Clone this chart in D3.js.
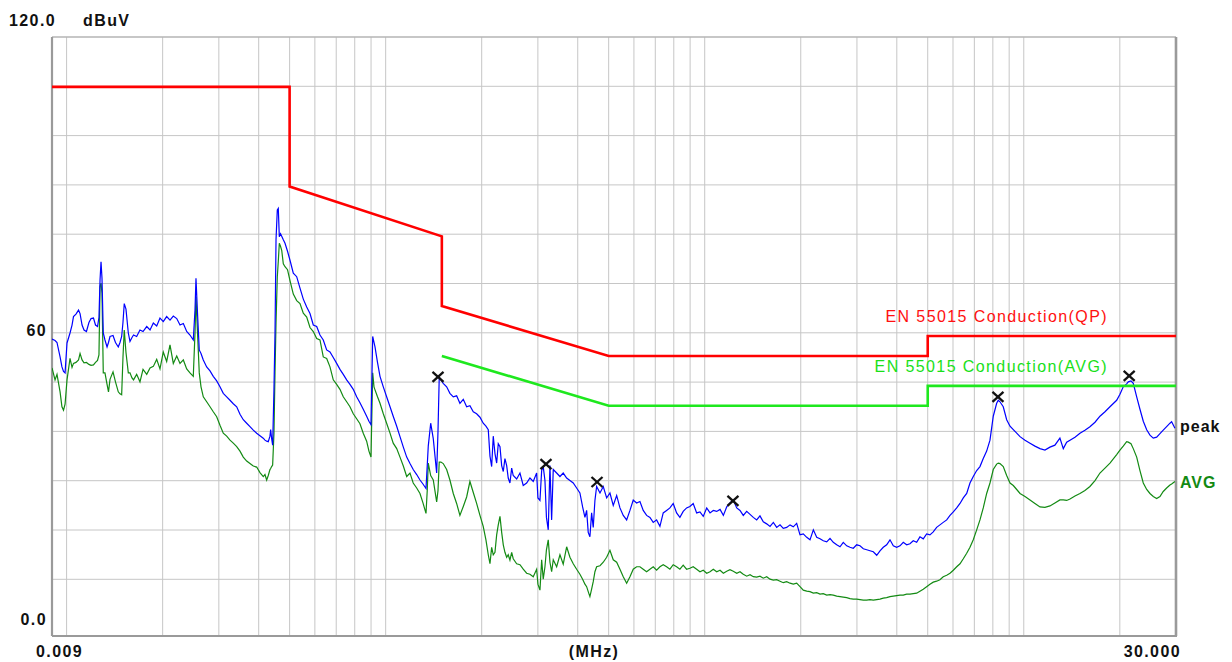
<!DOCTYPE html>
<html><head><meta charset="utf-8">
<script src="https://cdn.jsdelivr.net/npm/d3@7"></script>
<style>
html,body{margin:0;padding:0;background:#fff;}
svg{display:block;}
</style></head>
<body>
<svg id="chart" width="1232" height="662"></svg>
<script>
// ---------- data (MHz / dBuV) ----------
const freqs = [0.009,0.0092,0.00933,0.00954,0.00967,0.00978,0.00989,0.01003,0.01025,0.0104,
0.01051,0.0107,0.0109,0.01102,0.01118,0.01134,0.01154,0.01175,0.01193,0.01214,
0.01232,0.0125,0.01263,0.01273,0.01282,0.01291,0.01303,0.01319,0.01339,0.01353,
0.01368,0.01398,0.01423,0.01452,0.0147,0.01488,0.01502,0.01516,0.01535,0.01561,
0.0158,0.01603,0.01621,0.01658,0.01698,0.01736,0.01783,0.01826,0.0187,0.01916,
0.01962,0.02009,0.02059,0.02109,0.0216,0.02214,0.02267,0.02322,0.02379,0.02436,
0.02495,0.02526,0.02544,0.02572,0.02605,0.02638,0.02682,0.02748,0.02815,0.02882,
0.02954,0.03025,0.03098,0.03175,0.03252,0.0333,0.03413,0.03495,0.03579,0.03668,
0.03756,0.03847,0.03942,0.04037,0.04134,0.04185,0.04237,0.04286,0.04339,0.04361,
0.04392,0.04424,0.04466,0.045,0.04533,0.04575,0.04608,0.04642,0.04682,0.04723,
0.04778,0.04837,0.04925,0.05014,0.05135,0.05262,0.05389,0.05519,0.05656,0.05792,
0.05932,0.06079,0.06225,0.06375,0.06533,0.06691,0.06852,0.07022,0.07191,0.07364,
0.07547,0.07729,0.07915,0.08111,0.08307,0.08507,0.08718,0.08864,0.08996,0.09107,
0.09193,0.0926,0.09428,0.096,0.09831,0.1007,0.1032,0.1056,0.1083,0.1109,
0.1136,0.1164,0.1192,0.122,0.1251,0.1281,0.1309,0.1338,0.135,0.136,
0.1384,0.141,0.1445,0.1459,0.1472,0.149,0.1515,0.1553,0.159,0.1629,
0.1669,0.1709,0.1751,0.1794,0.1837,0.1882,0.1928,0.1975,0.2022,0.2062,
0.2097,0.2123,0.2149,0.2174,0.2201,0.2228,0.2254,0.2282,0.231,0.2337,
0.2365,0.2395,0.2422,0.2452,0.2483,0.2511,0.2574,0.2636,0.2699,0.2766,
0.2833,0.2901,0.2973,0.3001,0.3045,0.3083,0.3118,0.3157,0.3191,0.3233,
0.3273,0.3313,0.3352,0.3435,0.3518,0.3602,0.3692,0.3781,0.3872,0.3968,
0.4063,0.4143,0.4213,0.4265,0.4314,0.4367,0.4421,0.4473,0.4528,0.4584,
0.4696,0.4809,0.4928,0.5046,0.5168,0.5297,0.5424,0.5555,0.5693,0.583,
0.597,0.6118,0.6266,0.6416,0.6576,0.6734,0.6896,0.7067,0.7238,0.7412,
0.7596,0.7779,0.7966,0.8164,0.8361,0.8562,0.8775,0.8986,0.9202,0.9435,
0.9662,0.9895,1.0145,1.039,1.064,1.0905,1.117,1.144,1.172,1.2,
1.229,1.26,1.29,1.321,1.354,1.387,1.42,1.455,1.49,1.526,
1.564,1.602,1.641,1.681,1.722,1.763,1.807,1.851,1.895,1.942,
1.989,2.037,2.088,2.138,2.19,2.244,2.298,2.353,2.412,2.47,
2.529,2.592,2.655,2.718,2.786,2.853,2.922,2.994,3.067,3.141,
3.219,3.296,3.376,3.46,3.543,3.628,3.718,3.808,3.9,3.996,
4.093,4.191,4.295,4.399,4.504,4.616,4.727,4.841,4.961,5.081,
5.203,5.332,5.461,5.592,5.734,5.872,6.014,6.163,6.311,6.463,
6.624,6.783,6.946,7.119,7.29,7.465,7.651,7.836,8.024,8.223,
8.319,8.421,8.624,8.839,9.055,9.273,9.503,9.733,10.09,10.46,
10.84,11.24,11.65,12.08,12.52,12.98,13.3,13.63,13.96,14.47,
15.0,15.55,16.12,16.72,17.33,17.97,18.63,19.55,20.02,20.5,
21.01,21.26,21.68,22.04,22.59,23.13,23.69,24.28,24.86,25.46,
26.09,26.72,27.36,28.04,28.72,29.07,29.77];

const peak = [59.4,59.1,58.7,55.8,53.8,52.9,52.6,58.6,60.6,62.2,
63.9,64.4,65.2,64.5,62.2,61.2,60.9,62.7,63.5,63.6,
62.2,61.9,63.7,71.3,74.9,71.6,60.6,59.2,57.8,58.7,
59.9,60.1,58.7,57.8,58.7,59.9,62.7,66.5,65.4,60.6,
58.9,59.7,60.2,59.9,61.2,60.9,61.9,61.2,62.6,62.0,
63.6,62.9,63.9,63.2,64.0,63.5,62.2,62.5,60.9,60.2,
59.2,65.2,71.6,64.6,57.2,56.5,55.2,53.8,53.0,51.9,
51.0,49.8,48.5,47.8,47.1,46.4,45.8,44.3,43.2,42.5,
41.8,41.1,40.5,40.0,39.5,39.1,38.9,38.8,39.9,41.2,
39.4,38.1,49.2,60.6,79.3,85.3,85.6,79.9,80.5,80.0,
79.3,78.6,77.0,75.2,72.6,71.9,69.6,67.4,65.8,64.5,
62.2,61.9,60.2,59.2,57.2,56.8,55.7,54.5,53.3,52.3,
51.2,50.3,49.3,47.8,46.6,45.3,43.9,42.9,42.2,59.9,
58.7,57.8,54.7,51.9,49.8,47.8,45.8,43.9,41.9,39.8,
37.7,35.7,34.4,33.2,32.2,31.1,30.3,29.4,34.0,37.9,
42.5,39.4,32.5,40.9,51.7,51.2,50.5,49.8,48.5,47.8,
48.0,46.5,47.3,45.8,46.0,44.8,44.4,43.7,42.5,41.9,
41.2,35.9,33.8,39.9,36.4,34.5,38.4,37.8,34.0,32.8,
35.4,34.0,31.5,30.5,33.5,32.0,31.3,32.5,30.0,30.5,
31.5,30.8,32.5,27.5,27.0,33.0,33.8,31.0,23.6,21.1,
34.0,23.1,33.2,32.5,31.8,32.5,31.5,31.0,30.5,29.5,
28.5,25.7,23.6,25.0,20.6,19.7,24.5,21.6,27.0,29.8,
28.5,29.8,27.5,28.5,26.0,28.0,25.5,24.0,23.1,25.0,
27.1,26.5,26.8,25.0,24.0,23.6,22.6,23.1,21.8,24.5,
25.0,25.5,26.4,24.5,23.6,24.8,25.5,25.8,26.4,24.5,
24.7,23.8,25.5,24.5,25.0,24.8,25.2,24.0,25.7,26.5,
27.1,25.5,25.0,24.0,24.8,24.2,23.6,23.1,23.9,22.7,
22.3,21.8,22.6,21.6,22.1,21.4,21.6,22.1,21.7,22.4,
20.1,20.3,19.6,19.1,21.1,19.6,19.3,18.9,18.7,19.4,
18.6,18.1,17.7,18.6,17.9,17.6,17.4,18.1,17.9,17.3,
17.1,16.9,16.7,16.0,16.9,17.6,18.1,19.1,17.9,17.6,
17.9,18.6,18.1,18.3,18.9,18.6,19.7,19.3,20.3,20.1,
20.7,21.6,22.1,22.6,23.1,24.0,24.7,25.5,26.4,27.5,
28.4,30.5,31.8,33.0,33.8,35.4,36.9,39.1,43.9,46.5,
47.1,46.8,45.8,43.2,41.9,41.2,40.5,39.8,39.1,38.5,
37.9,37.4,37.1,37.7,38.1,39.5,37.4,38.7,39.1,39.7,
40.5,41.1,41.8,42.7,43.9,44.8,45.8,47.1,48.3,49.8,
50.4,50.8,51.0,50.5,47.8,45.3,42.9,41.2,40.1,39.5,
39.7,40.4,41.1,41.8,42.5,42.8,41.5];

const avg = [53.6,51.2,52.3,48.8,45.8,45.1,46.3,51.2,55.5,53.7,
54.5,54.7,55.2,56.5,55.2,54.6,54.7,54.3,54.1,54.2,
54.7,55.1,56.2,69.9,70.6,68.6,52.6,52.6,50.3,48.8,
51.3,52.8,50.8,48.8,48.4,48.2,55.7,61.2,56.7,52.6,
52.6,51.6,51.2,52.3,50.8,53.3,52.3,53.6,53.9,55.3,
53.4,56.8,54.9,58.2,54.5,56.0,54.5,55.2,53.4,52.6,
51.9,60.6,67.9,60.7,52.6,49.8,47.8,46.8,45.8,44.8,
43.8,42.1,40.5,39.9,39.1,38.5,37.8,36.9,35.7,34.9,
34.4,33.9,33.7,32.6,31.8,32.2,31.1,32.0,33.2,33.4,
33.8,34.1,40.5,52.8,62.7,71.9,75.0,78.6,78.0,77.2,
74.5,73.9,73.3,71.1,68.4,67.1,66.5,64.6,63.8,61.7,
60.9,59.5,59.2,55.8,55.5,53.8,51.2,50.3,49.3,47.8,
46.8,45.8,44.4,43.4,42.4,40.5,38.9,36.9,35.7,52.6,
49.8,49.2,47.8,46.5,44.4,42.5,40.5,38.5,37.4,35.7,
33.9,31.8,32.5,30.5,29.5,28.4,26.5,24.4,29.0,34.5,
32.0,31.1,26.7,29.0,34.7,34.7,34.4,33.2,31.1,28.4,
26.4,24.0,25.8,27.7,30.8,28.6,26.4,24.0,21.8,19.1,
16.1,14.3,17.6,16.1,16.6,20.1,22.1,23.8,20.6,18.1,
16.6,15.6,16.1,15.0,16.6,15.3,14.3,14.1,13.2,12.4,
12.2,11.7,13.2,10.2,9.0,15.1,11.2,13.7,17.1,19.1,
14.6,12.7,15.1,13.7,16.1,14.2,17.7,15.6,14.3,13.2,
12.2,11.2,10.2,9.7,8.7,7.7,9.2,10.7,12.7,13.7,
13.9,14.6,15.6,17.0,15.1,14.6,13.2,11.7,10.4,11.7,
13.2,13.7,13.7,13.2,12.7,13.2,13.7,13.0,13.7,14.1,
13.7,13.2,14.1,13.7,13.2,14.0,13.2,13.4,13.7,13.2,
12.7,13.0,12.4,12.7,13.2,12.7,13.0,12.4,12.8,13.1,
12.8,12.4,12.7,12.2,11.8,12.1,11.7,11.6,11.8,11.4,
11.7,11.2,11.0,11.1,10.8,10.5,10.7,10.4,10.2,10.4,
9.7,9.0,8.8,8.7,8.4,8.5,8.2,8.3,8.0,8.1,
8.0,7.8,7.7,7.6,7.5,7.3,7.2,7.2,7.1,7.0,
7.0,7.1,7.0,7.1,7.2,7.4,7.5,7.7,7.8,7.9,
8.0,8.0,8.2,8.2,8.3,8.4,8.8,9.2,9.7,10.2,
10.6,10.8,11.1,11.7,12.0,12.4,13.0,13.7,14.3,15.3,
16.4,17.6,19.1,21.1,23.1,25.5,28.4,30.5,33.2,34.3,
34.5,34.4,33.8,32.0,30.5,30.0,29.2,28.4,27.8,27.1,
26.4,25.7,25.6,25.9,26.5,27.1,27.1,27.0,27.3,27.9,
28.4,29.0,29.8,31.0,32.5,33.5,34.5,36.2,37.1,37.9,
38.8,38.7,38.4,37.4,35.7,33.0,30.5,29.2,28.4,27.8,
27.4,27.8,28.8,29.5,30.1,30.3,30.8];

// limit lines
const qpFreq   = [0.009, 0.05, 0.05, 0.15, 0.15, 0.5, 5, 5, 30];
const qpLevel  = [110, 110, 90, 80, 66, 56, 56, 60, 60];
const avgLimFreq  = [0.15, 0.5, 5, 5, 30];
const avgLimLevel = [56, 46, 46, 50, 50];

// peak markers
const markerFreq  = [0.1459, 0.318, 0.4597, 1.226, 8.30, 21.4];
const markerLevel = [51.8, 34.3, 30.7, 26.9, 47.8, 52.0];

// axis labels
const yLabelValues = [0, 60];
const yLabelTexts  = ["0.0", "60"];
const xLabelValues = [0.009, 30];
const xLabelTexts  = ["0.009", "30.000"];
const gridLevels   = [10,20,30,40,50,60,70,80,90,100,110];

// ---------- drawing ----------
const L = 52, R = 1176, T = 37, B = 636;
const svg = d3.select("#chart");
const x = d3.scaleLog().domain([0.009, 30]).range([L, R]);
const y = d3.scaleLinear().domain([0, 120]).range([635, T]);
const yGrid = d3.scaleLinear().domain([0, 120]).range([628.6, T]);

const gridColor = "#c6c6c6";
// vertical grid (log decades)
const vTicks = x.ticks().filter(v => v > 0.0091 && v < 29.9);
svg.append("g").selectAll("line").data(vTicks).join("line")
  .attr("x1", d => x(d)).attr("x2", d => x(d))
  .attr("y1", T).attr("y2", B)
  .attr("stroke", gridColor).attr("stroke-width", 1);
// horizontal grid
svg.append("g").selectAll("line").data(gridLevels).join("line")
  .attr("x1", L).attr("x2", R)
  .attr("y1", d => yGrid(d)).attr("y2", d => yGrid(d))
  .attr("stroke", gridColor).attr("stroke-width", 1);

// frame
svg.append("line").attr("x1", L).attr("x2", R).attr("y1", T).attr("y2", T)
  .attr("stroke", "#b4b4b4").attr("stroke-width", 1.5);
svg.append("line").attr("x1", L).attr("x2", L).attr("y1", T).attr("y2", B)
  .attr("stroke", "#9a9a9a").attr("stroke-width", 2.2);
svg.append("line").attr("x1", L).attr("x2", R + 1).attr("y1", B).attr("y2", B)
  .attr("stroke", "#9a9a9a").attr("stroke-width", 2.2);
svg.append("line").attr("x1", R).attr("x2", R).attr("y1", T).attr("y2", B)
  .attr("stroke", "#9a9a9a").attr("stroke-width", 2.6);

svg.append("defs").append("clipPath").attr("id", "plotclip")
  .append("rect").attr("x", L).attr("y", T).attr("width", R - L).attr("height", B - T);

const plot = svg.append("g").attr("clip-path", "url(#plotclip)");

const lineGen = d3.line().x(d => x(d[0])).y(d => y(d[1]));

// AVG trace
plot.append("path")
  .datum(freqs.map((f, i) => [f, avg[i]]))
  .attr("d", lineGen).attr("fill", "none")
  .attr("stroke", "#138a13").attr("stroke-width", 1.2).attr("stroke-linejoin", "miter");
// peak trace
plot.append("path")
  .datum(freqs.map((f, i) => [f, peak[i]]))
  .attr("d", lineGen).attr("fill", "none")
  .attr("stroke", "#0000ff").attr("stroke-width", 1.2).attr("stroke-linejoin", "miter");

// limit lines
plot.append("path")
  .datum(qpFreq.map((f, i) => [f, qpLevel[i]]))
  .attr("d", lineGen).attr("fill", "none")
  .attr("stroke", "#ff0000").attr("stroke-width", 2.6);
plot.append("path")
  .datum(avgLimFreq.map((f, i) => [f, avgLimLevel[i]]))
  .attr("d", lineGen).attr("fill", "none")
  .attr("stroke", "#1ee81e").attr("stroke-width", 2.6);

// markers
const mk = svg.append("g").selectAll("g").data(markerFreq.map((f, i) => [f, markerLevel[i]]))
  .join("g").attr("transform", d => `translate(${x(d[0])},${y(d[1])})`);
mk.append("line").attr("x1", -5.5).attr("y1", -5).attr("x2", 5.5).attr("y2", 5)
  .attr("stroke", "#111").attr("stroke-width", 2.3);
mk.append("line").attr("x1", -5.5).attr("y1", 5).attr("x2", 5.5).attr("y2", -5)
  .attr("stroke", "#111").attr("stroke-width", 2.3);

// texts
const font = "'Liberation Sans', Arial, sans-serif";
function txt(s, px, py, opts = {}) {
  return svg.append("text").text(s).attr("x", px).attr("y", py)
    .attr("font-family", font)
    .attr("font-size", opts.size || 16)
    .attr("font-weight", opts.weight || "bold")
    .attr("letter-spacing", opts.ls != null ? opts.ls : 1.4)
    .attr("fill", opts.fill || "#111")
    .attr("text-anchor", opts.anchor || "start");
}
// y labels
txt("120.0", 9, y(120) - 11);
txt("dBuV", 83, y(120) - 11);
yLabelValues.forEach((v, i) => {
  const py = v === 0 ? y(v) - 10 : y(v);
  txt(yLabelTexts[i], 47, py, {anchor: "end"});
});
// x labels
txt(xLabelTexts[0], x(xLabelValues[0]) - 16, 657);
txt(xLabelTexts[1], x(xLabelValues[1]) + 5, 657, {anchor: "end"});
txt("(MHz)", 594, 657, {anchor: "middle"});

// legends
txt("EN 55015 Conduction(QP)", 1108, 322, {weight: "normal", fill: "#ff1010", ls: 1.4, anchor: "end"});
txt("EN 55015 Conduction(AVG)", 1108, 372, {weight: "normal", fill: "#19e019", ls: 1.4, anchor: "end"});
txt("peak", 1180, 432, {ls: 1});
txt("AVG", 1180, 488, {fill: "#138a13", ls: 1});
</script>
</body></html>
